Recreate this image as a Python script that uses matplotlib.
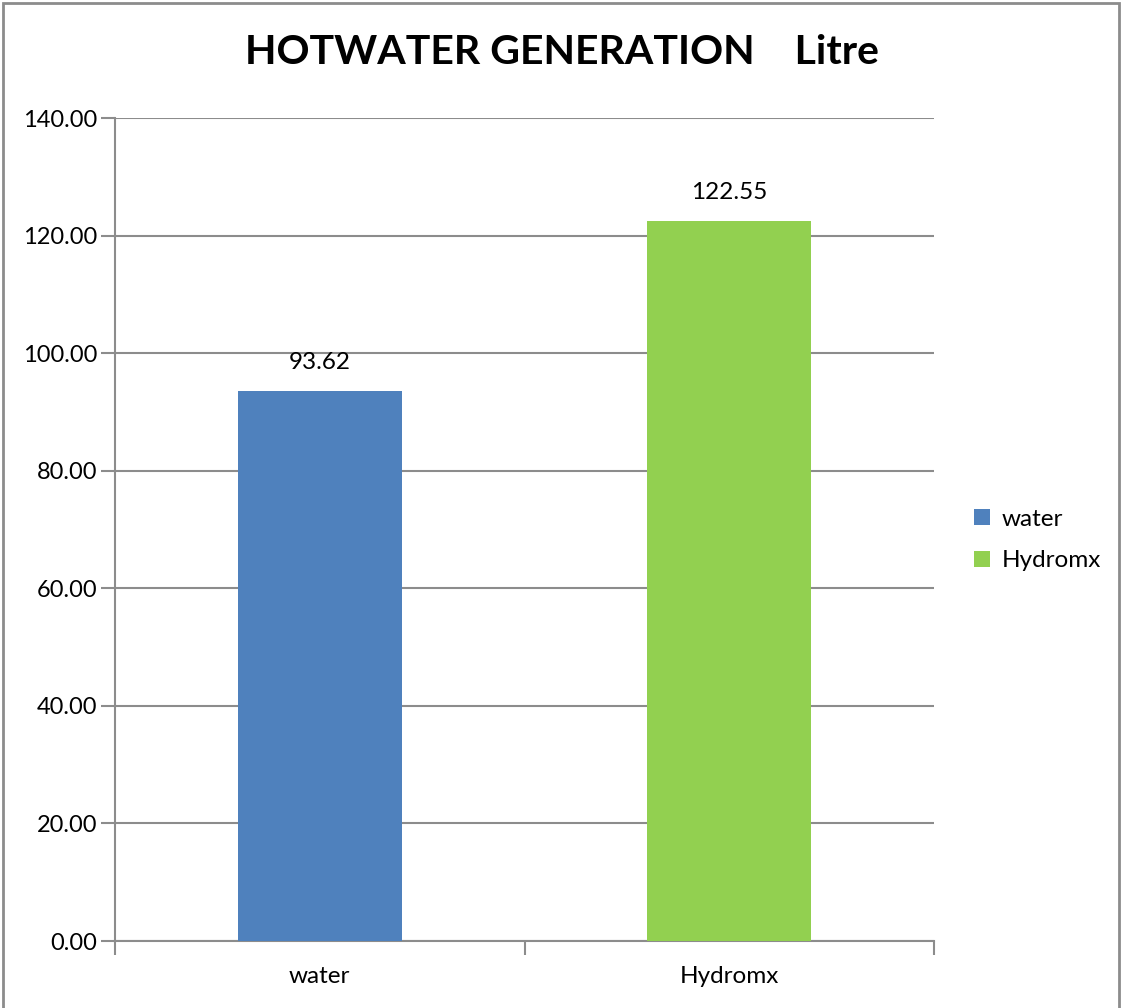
import matplotlib
matplotlib.use("Agg")
import matplotlib.pyplot as plt
from matplotlib.patches import Rectangle, Patch

categories = ["water", "Hydromx"]
values = [93.62, 122.55]
colors = ["#4F81BD", "#92D050"]
yticks = [0, 20, 40, 60, 80, 100, 120, 140]

plt.rcParams['font.family'] = ['Lato', 'DejaVu Sans']

W, H = 1121, 1008
fig = plt.figure(figsize=(W/100, H/100), dpi=100)
ax = fig.add_axes([115/W, 1 - 941/H, (934-115)/W, (941-118)/H])

x = list(range(len(categories)))
bars = ax.bar(x, values, width=0.4, color=colors, zorder=3)
for xi, v in zip(x, values):
    ax.annotate(f"{v:.2f}", (xi, v), xytext=(0, 18), textcoords="offset pixels",
                ha="center", va="bottom", fontsize=17.5)

ax.set_xlim(-0.5, len(categories) - 0.5)
ax.set_ylim(0, 140)
ax.set_yticks(yticks)
ax.set_yticklabels([f"{t:.2f}" for t in yticks], fontsize=17)
ax.yaxis.grid(True, color="#8c8c8c", linewidth=1.5, zorder=0)
ax.set_axisbelow(True)

ax.set_xticks([i - 0.5 for i in range(len(categories) + 1)])
ax.set_xticklabels([])
ax.set_xticks(x, minor=True)
ax.set_xticklabels(categories, minor=True, fontsize=17.5)
ax.tick_params(axis="x", which="minor", length=0, pad=18)
ax.tick_params(axis="x", which="major", length=10, width=1.5, color="#8c8c8c")
ax.tick_params(axis="y", length=10, width=1.5, color="#8c8c8c", pad=3)

for s in ["top", "right"]:
    ax.spines[s].set_visible(False)
for s in ["left", "bottom"]:
    ax.spines[s].set_color("#8c8c8c")
    ax.spines[s].set_linewidth(1.5)

fig.text(562/W, 1 - 52/H, "HOTWATER GENERATION    Litre", ha="center", va="center",
         fontsize=29.5, fontweight="bold")

handles = [Patch(facecolor=c, edgecolor="none") for c in colors]
fig.legend(handles, categories, loc="center left", bbox_to_anchor=(952/W, 1 - 540/H),
           frameon=False, fontsize=17.5, handlelength=0.65, handleheight=0.65,
           handletextpad=0.5, labelspacing=0.85)

fig.patches.append(Rectangle((3/W, -0.01), (1119-3)/W, 1 - 3/H + 0.01, transform=fig.transFigure,
                             fill=False, edgecolor="#8c8c8c", linewidth=2))

fig.savefig("out.png", dpi=100)
